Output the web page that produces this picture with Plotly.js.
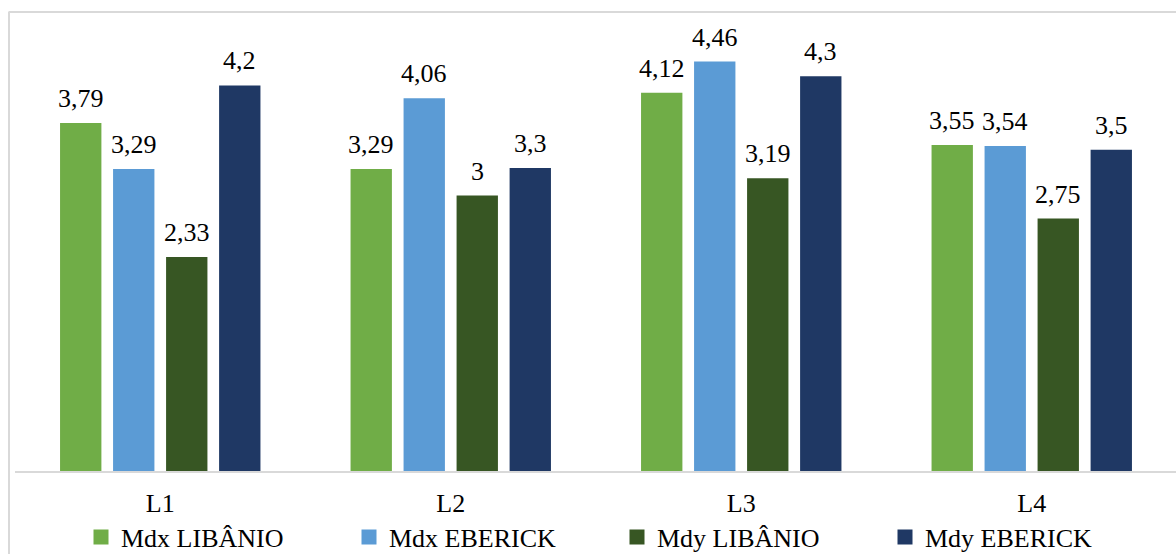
<!DOCTYPE html>
<html><head><meta charset="utf-8">
<script src="https://cdn.plot.ly/plotly-3.0.1.min.js"></script>
<style>html,body{margin:0;padding:0;background:#fff;overflow:hidden}</style>
</head><body>
<div id="chart" style="width:1178px;height:554px"></div>
<script>
const categories = ["L1", "L2", "L3", "L4"];
const seriesNames = ["Mdx LIBÂNIO", "Mdx EBERICK", "Mdy LIBÂNIO", "Mdy EBERICK"];
const mdxLibanio = [3.79, 3.29, 4.12, 3.55];
const mdxEberick = [3.29, 4.06, 4.46, 3.54];
const mdyLibanio = [2.33, 3.00, 3.19, 2.75];
const mdyEberick = [4.20, 3.30, 4.30, 3.50];
const seriesValues = [mdxLibanio, mdxEberick, mdyLibanio, mdyEberick];
const colors = ["#70AD47", "#5B9BD5", "#375623", "#1F3864"];

const fmt = v => String(v).replace('.', ',');
const font = 'Times New Roman, Liberation Serif, DejaVu Serif, serif';
const fs = 26;
const bargap = 0.27, bargroupgap = 0.22;

const barTraces = seriesValues.map((vals, i) => ({
  type: 'bar',
  name: seriesNames[i],
  x: categories,
  y: vals,
  marker: {color: colors[i]},
  showlegend: false,
  hoverinfo: 'skip'
}));
// legend entries with square swatches
const legendTraces = seriesNames.map((n, i) => ({
  type: 'scatter', mode: 'markers', name: n,
  x: [null], y: [null],
  marker: {symbol: 'square', size: 15, color: colors[i]},
  hoverinfo: 'skip'
}));

const nS = seriesValues.length;
const slot = (1 - bargap) / nS;
const annotations = [];
seriesValues.forEach((vals, i) => {
  vals.forEach((v, j) => {
    annotations.push({
      xref: 'x', yref: 'y',
      x: j + (i - (nS - 1) / 2) * slot, y: v,
      text: fmt(v), showarrow: false,
      xanchor: 'center', yanchor: 'bottom', yshift: 8,
      font: {family: font, size: fs, color: '#000'}
    });
  });
});

const px = p => (p - 14.5) / 1163;
const py = p => (471 - p) / 459;

const layout = {
  width: 1178, height: 554,
  margin: {l: 14.5, r: 0.5, t: 12, b: 83},
  font: {family: font, size: fs, color: '#000'},
  paper_bgcolor: '#fff', plot_bgcolor: '#fff',
  barmode: 'group',
  bargap: bargap,
  bargroupgap: bargroupgap,
  showlegend: true,
  legend: {
    orientation: 'h', xref: 'container', yref: 'container',
    x: 617 / 1178, xanchor: 'center', y: 1 - 537 / 554, yanchor: 'middle',
    bgcolor: 'rgba(0,0,0,0)',
    font: {family: font, size: fs, color: '#000'},
    entrywidth: 223, entrywidthmode: 'pixels',
    itemwidth: 30, tracegroupgap: 0
  },
  xaxis: {
    type: 'category', categoryarray: categories,
    showgrid: false, zeroline: false,
    showline: true, linecolor: '#D9D9D9', linewidth: 2,
    ticks: '', ticklabelstandoff: 8,
    tickfont: {family: font, size: fs, color: '#000'}
  },
  yaxis: {
    range: [0, 5], showgrid: false, zeroline: false, showticklabels: false,
    showline: false, ticks: ''
  },
  annotations: annotations,
  shapes: [
    {type: 'line', xref: 'paper', yref: 'paper', x0: px(8), x1: px(1180), y0: py(12), y1: py(12),
     line: {color: '#D9D9D9', width: 2}},
    {type: 'line', xref: 'paper', yref: 'paper', x0: px(8.5), x1: px(8.5), y0: py(12), y1: py(560),
     line: {color: '#D9D9D9', width: 2}}
  ]
};

Plotly.newPlot('chart', barTraces.concat(legendTraces), layout, {displayModeBar: false, staticPlot: true});
</script>
</body></html>
